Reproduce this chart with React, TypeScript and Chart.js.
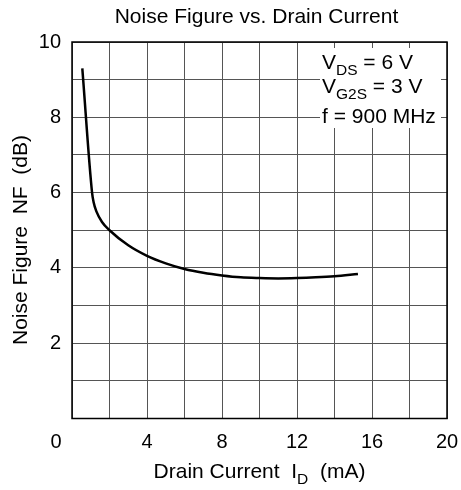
import { useEffect, useRef } from 'react';
import { Chart, registerables } from 'chart.js';

Chart.register(...registerables);

const drainCurrent = [0.55, 1.07, 1.15, 1.3, 1.6, 2, 3, 4, 5, 6, 7, 8, 9, 10, 11, 12, 13, 14, 15.25];
const noiseFigure = [9.3, 6.0, 5.75, 5.5, 5.22, 5.0, 4.6, 4.32, 4.12, 3.97, 3.87, 3.8, 3.75, 3.73, 3.72, 3.73, 3.75, 3.78, 3.84];
const xTickLabels = [0, 4, 8, 12, 16, 20];
const yTickLabels = [2, 4, 6, 8, 10];
const titleText = 'Noise Figure vs. Drain Current';
const yTitleText = 'Noise Figure  NF  (dB)';
const xTitleParts = [
  { t: 'Drain Current  I', sub: false },
  { t: 'D', sub: true },
  { t: '  (mA)', sub: false },
];
const conditionLines = [
  [{ t: 'V', sub: false }, { t: 'DS', sub: true }, { t: ' = 6 V', sub: false }],
  [{ t: 'V', sub: false }, { t: 'G2S', sub: true }, { t: ' = 3 V', sub: false }],
  [{ t: 'f = 900 MHz', sub: false }],
];

const FONT = '"Liberation Sans", Arial, Helvetica, sans-serif';
const SIZE = 21;
const TICK = 20;
const SUB = 15.5;

type Part = { t: string; sub: boolean };

function richWidth(ctx: CanvasRenderingContext2D, parts: Part[]) {
  let w = 0;
  for (const p of parts) {
    ctx.font = `${p.sub ? SUB : SIZE}px ${FONT}`;
    w += ctx.measureText(p.t).width;
  }
  return w;
}

function drawRich(ctx: CanvasRenderingContext2D, parts: Part[], x: number, y: number, center: boolean) {
  let cx = center ? x - richWidth(ctx, parts) / 2 : x;
  ctx.textAlign = 'left';
  ctx.textBaseline = 'alphabetic';
  for (const p of parts) {
    ctx.font = `${p.sub ? SUB : SIZE}px ${FONT}`;
    ctx.fillText(p.t, cx, p.sub ? y + 6 : y);
    cx += ctx.measureText(p.t).width;
  }
}

const overlay = {
  id: 'overlay',
  afterDraw(chart: any) {
    const { ctx, chartArea: a, scales } = chart;
    ctx.save();
    // conditions box
    ctx.fillStyle = '#fff';
    ctx.fillRect(a.right - 127, a.top + 6, 121, 80);
    ctx.fillStyle = '#000';
    drawRich(ctx, conditionLines[0], a.right - 125, a.top + 27, false);
    drawRich(ctx, conditionLines[1], a.right - 125, a.top + 51, false);
    drawRich(ctx, conditionLines[2], a.right - 125, a.top + 81, false);
    // border
    ctx.strokeStyle = '#000';
    ctx.lineWidth = 1.5;
    ctx.strokeRect(a.left, a.top, a.right - a.left, a.bottom - a.top);
    // x tick labels
    ctx.font = `${TICK}px ${FONT}`;
    ctx.textAlign = 'center';
    ctx.textBaseline = 'middle';
    for (const v of xTickLabels) {
      let px = scales.x.getPixelForValue(v);
      if (v === 0) px -= 16;
      ctx.fillText(String(v), px, a.bottom + 24);
    }
    // title
    ctx.font = `${SIZE}px ${FONT}`;
    ctx.textBaseline = 'alphabetic';
    ctx.fillText(titleText, (a.left + a.right) / 2 - 3, 23);
    // x title
    drawRich(ctx, xTitleParts, (a.left + a.right) / 2, 478, true);
    // y title
    ctx.translate(21, 240);
    ctx.rotate(-Math.PI / 2);
    ctx.font = `${SIZE}px ${FONT}`;
    ctx.textAlign = 'center';
    ctx.textBaseline = 'middle';
    ctx.fillText(yTitleText, 0, 0);
    ctx.restore();
  },
};

export default function App() {
  const ref = useRef<HTMLCanvasElement>(null);
  useEffect(() => {
    document.body.style.margin = '0';
    const canvas = ref.current!;
    const chart = new Chart(canvas, {
      type: 'line',
      data: {
        datasets: [
          {
            data: drainCurrent.map((x, i) => ({ x, y: noiseFigure[i] })),
            borderColor: '#000',
            borderWidth: 2.5,
            pointRadius: 0,
            fill: false,
            cubicInterpolationMode: 'monotone',
          },
        ],
      },
      options: {
        animation: false,
        responsive: false,
        layout: { padding: { top: 42, right: 14, left: 0, bottom: 0 } },
        plugins: { legend: { display: false }, tooltip: { enabled: false }, title: { display: false } },
        scales: {
          x: {
            type: 'linear',
            min: 0,
            max: 20,
            ticks: { stepSize: 2, display: false },
            grid: { color: '#555', lineWidth: 1, drawTicks: false },
            border: { display: false },
            afterFit(s: any) {
              s.height = 71.5;
            },
          },
          y: {
            type: 'linear',
            min: 0,
            max: 10,
            ticks: {
              stepSize: 1,
              padding: 11,
              color: '#000',
              font: { size: TICK, family: FONT },
              callback: (v: any) => (yTickLabels.includes(Number(v)) ? String(v) : ''),
            },
            grid: { color: '#555', lineWidth: 1, drawTicks: false },
            border: { display: false },
            afterFit(s: any) {
              s.width = 72;
            },
          },
        },
      },
      plugins: [overlay],
    } as any);
    return () => chart.destroy();
  }, []);
  return (
    <div style={{ width: 461, height: 490 }}>
      <canvas ref={ref} width={461} height={490} style={{ display: 'block' }} />
    </div>
  );
}
